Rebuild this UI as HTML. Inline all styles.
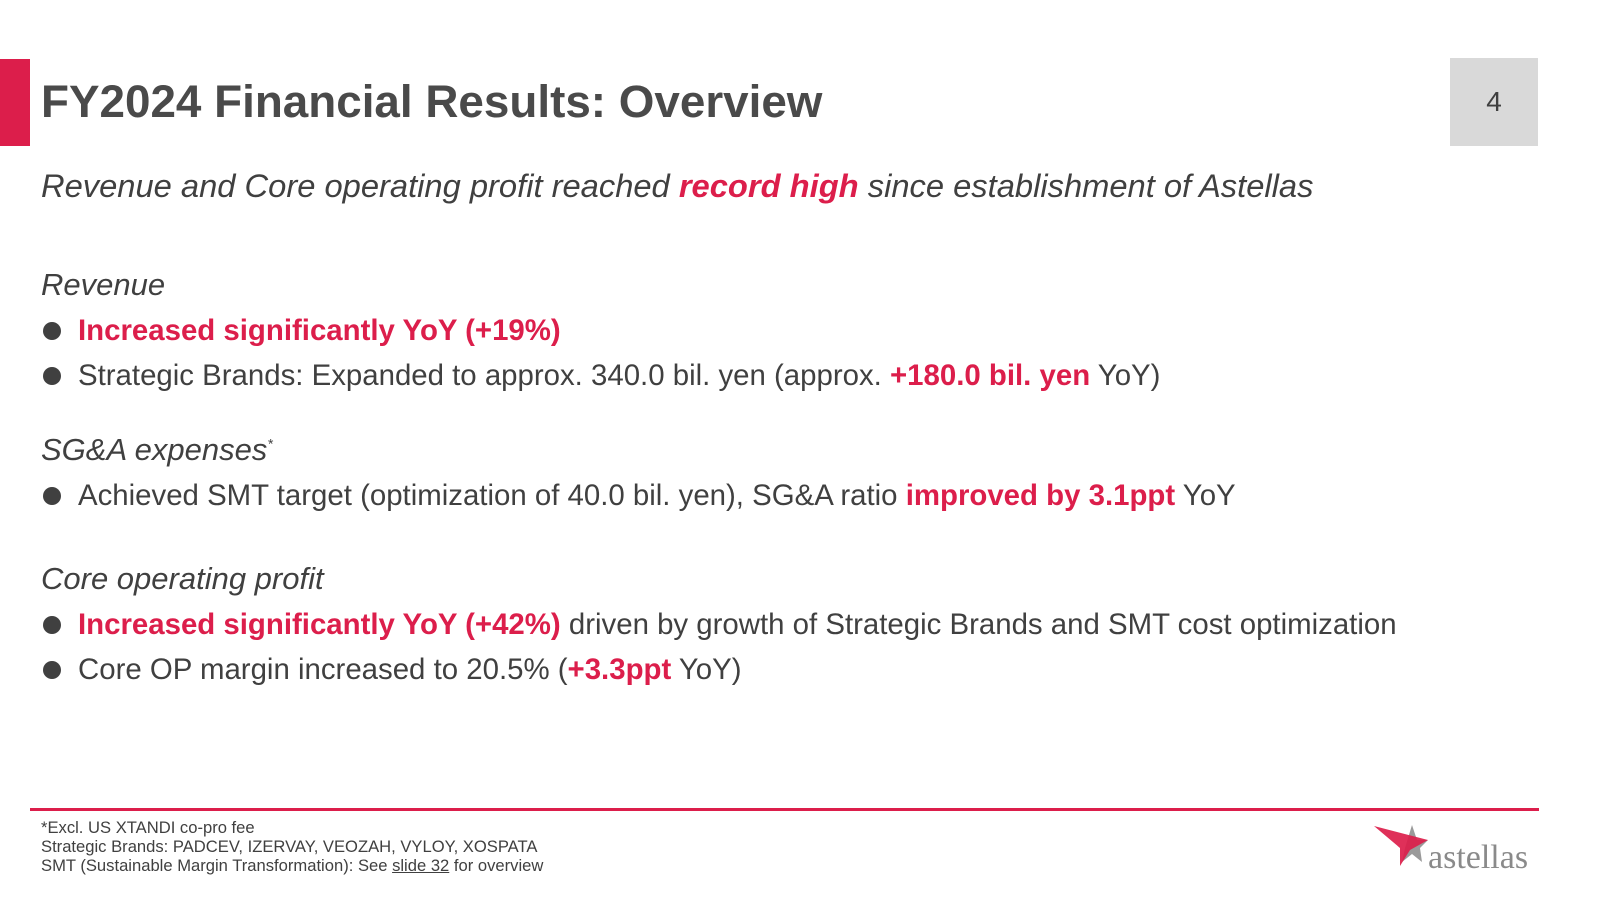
<!DOCTYPE html>
<html><head><meta charset="utf-8"><style>
body{margin:0;width:1600px;height:900px;background:#fff;position:relative;overflow:hidden;font-family:"Liberation Sans",Arial,sans-serif;color:#404040}
.a{position:absolute;white-space:nowrap}
.r{color:#dc1e4b;font-weight:bold}
.h{font-style:italic;font-size:31px;color:#404040}
.b{font-size:29.4px;left:78px}
.dot{position:absolute;left:43px;width:18px;height:18px;border-radius:50%;background:#404040}
.f{font-size:16.6px;left:41px;color:#404040}
</style></head><body>
<div class="a" style="left:0;top:59px;width:30px;height:87px;background:#dc1e4b"></div>
<div class="a" style="left:41px;top:76px;font-size:45.8px;font-weight:bold;color:#4a4a4a">FY2024 Financial Results: Overview</div>
<div class="a" style="left:1450px;top:58px;width:88px;height:88px;background:#d9d9d9;font-size:28px;line-height:88px;text-align:center;color:#404040">4</div>
<div class="a h" style="left:41px;top:167px;font-size:32.7px">Revenue and Core operating profit reached <span class="r">record high</span> since establishment of Astellas</div>

<div class="a h" style="left:41px;top:267px">Revenue</div>
<div class="dot" style="top:322px"></div>
<div class="a b" style="top:314px"><span class="r">Increased significantly YoY (+19%)</span></div>
<div class="dot" style="top:367px"></div>
<div class="a b" style="top:359px">Strategic Brands: Expanded to approx. 340.0 bil. yen (approx. <span class="r">+180.0 bil. yen</span> YoY)</div>

<div class="a h" style="left:41px;top:432px">SG&amp;A expenses<sup style="font-size:14px">*</sup></div>
<div class="dot" style="top:487px"></div>
<div class="a b" style="top:479px">Achieved SMT target (optimization of 40.0 bil. yen), SG&amp;A ratio <span class="r">improved by 3.1ppt</span> YoY</div>

<div class="a h" style="left:41px;top:561px">Core operating profit</div>
<div class="dot" style="top:616px"></div>
<div class="a b" style="top:608px"><span class="r">Increased significantly YoY (+42%)</span> driven by growth of Strategic Brands and SMT cost optimization</div>
<div class="dot" style="top:661px"></div>
<div class="a b" style="top:653px">Core OP margin increased to 20.5% (<span class="r">+3.3ppt</span> YoY)</div>

<div class="a" style="left:30px;top:808px;width:1509px;height:3px;background:#dc1e4b"></div>
<div class="a f" style="top:818px">*Excl. US XTANDI co-pro fee</div>
<div class="a f" style="top:837px">Strategic Brands: PADCEV, IZERVAY, VEOZAH, VYLOY, XOSPATA</div>
<div class="a f" style="top:856px">SMT (Sustainable Margin Transformation): See <span style="text-decoration:underline">slide 32</span> for overview</div>

<svg class="a" style="left:1370px;top:820px" width="175" height="55" viewBox="0 0 175 55">
<polygon points="42,5 47,20 58,20 50,28 52,42 42,34 32,42 35,28" fill="#9a9a9a"/>
<polygon points="4,6 58,20 40,30 30,46 30,28" fill="#dc1e4b" opacity="0.92"/>
<text x="58" y="48" font-family="Liberation Serif,serif" font-size="34" fill="#8a8a8a">astellas</text>
</svg>
</body></html>
